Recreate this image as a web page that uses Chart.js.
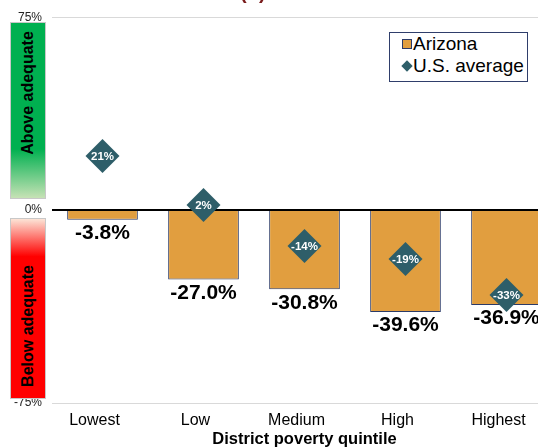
<!DOCTYPE html>
<html lang="en">
<head>
    <meta charset="UTF-8">
    <title>District poverty quintile</title>
    <script src="https://cdn.jsdelivr.net/npm/chart.js"></script>
    <style>
        body {
            margin: 0;
            font-family: "Liberation Sans", Arial, sans-serif;
            background: #fff;
        }
        .wrap {
            position: relative;
            width: 538px;
            height: 447px;
            overflow: hidden;
        }
        .chart-box {
            position: absolute;
            left: 0;
            top: 0;
            width: 557px;
            height: 460px;
        }
        .top-title {
            position: absolute;
            left: 240px;
            top: -19px;
            font-weight: bold;
            font-size: 20px;
            color: #7a1c1c;
        }
        .band {
            position: absolute;
            left: 10px;
            width: 34px;
            border: 1px solid #c8c8c8;
        }
        .band span {
            position: absolute;
            left: 50%;
            font-weight: bold;
            font-size: 16px;
            white-space: nowrap;
            transform: translate(-50%, -50%) rotate(-90deg);
            color: #000;
        }
        .above {
            top: 22px;
            height: 175px;
            background: linear-gradient(to bottom, #00b050 0%, #00b050 72%, #c6e2b5 100%);
        }
        .below {
            top: 218px;
            height: 179px;
            background: linear-gradient(to bottom, #fce4d6 0%, #ff0000 21%, #ff0000 100%);
        }
        .legend {
            position: absolute;
            left: 389px;
            top: 32px;
            width: 137px;
            height: 48px;
            border: 1px solid #2f3e6b;
            background: #fff;
            font-size: 19px;
            color: #000;
        }
        .legend div {
            position: relative;
            height: 22px;
            line-height: 22px;
            padding-left: 23px;
        }
        .legend i {
            position: absolute;
            display: block;
        }
    </style>
</head>
<body>
    <div class="wrap">
        <div class="chart-box">
            <canvas id="myChart" width="557" height="460"></canvas>
        </div>
        <div class="top-title">(b)</div>
        <div class="band above"><span style="top: 70px;">Above adequate</span></div>
        <div class="band below"><span style="top: 107px;">Below adequate</span></div>
        <div class="legend" id="legend"></div>
    </div>

    <script>
        const categories = ['Lowest', 'Low', 'Medium', 'High', 'Highest'];
        const arizona = [-3.8, -27.0, -30.8, -39.6, -36.9];
        const usAverage = [21, 2, -14, -19, -33];
        const yTickValues = [-75, 0, 75];

        const barColor = '#e19e3f';
        const barBorder = '#2b3a67';
        const diamondColor = '#2e5e69';

        // labels under the bars and inside the diamonds
        const valueLabels = {
            id: 'valueLabels',
            afterDatasetsDraw(chart) {
                const ctx = chart.ctx;
                ctx.save();
                ctx.textAlign = 'center';

                ctx.font = 'bold 21px "Liberation Sans", Arial';
                ctx.fillStyle = '#000';
                ctx.textBaseline = 'top';
                chart.getDatasetMeta(0).data.forEach((bar, i) => {
                    ctx.fillText(arizona[i].toFixed(1) + '%', bar.x, bar.y + 3);
                });

                ctx.font = 'bold 11.5px "Liberation Sans", Arial';
                ctx.fillStyle = '#fff';
                ctx.textBaseline = 'middle';
                chart.getDatasetMeta(1).data.forEach((pt, i) => {
                    ctx.fillText(usAverage[i] + '%', pt.x, pt.y + 1);
                });
                ctx.restore();
            }
        };

        const ctx = document.getElementById('myChart').getContext('2d');
        const chart = new Chart(ctx, {
            type: 'bar',
            data: {
                labels: categories,
                datasets: [{
                    label: 'Arizona',
                    data: arizona,
                    backgroundColor: barColor,
                    borderColor: barBorder,
                    borderWidth: 1,
                    borderSkipped: 'start',
                    categoryPercentage: 1,
                    barPercentage: 0.7,
                    order: 1
                }, {
                    type: 'line',
                    label: 'U.S. average',
                    data: usAverage,
                    showLine: false,
                    clip: false,
                    pointStyle: 'rectRot',
                    pointRadius: 17,
                    pointHoverRadius: 17,
                    pointBackgroundColor: diamondColor,
                    pointBorderColor: diamondColor,
                    pointBorderWidth: 0,
                    order: 0
                }]
            },
            options: {
                responsive: false,
                animation: false,
                events: [],
                layout: {
                    autoPadding: false,
                    padding: { top: 14, left: 0, right: 0, bottom: 0 }
                },
                plugins: {
                    legend: { display: false },
                    tooltip: { enabled: false }
                },
                scales: {
                    x: {
                        grid: { display: false },
                        border: { display: false },
                        ticks: {
                            color: '#000',
                            font: { size: 16, family: '"Liberation Sans", Arial' },
                            padding: 0,
                            labelOffset: -8,
                            maxRotation: 0
                        },
                        title: {
                            display: true,
                            text: 'District poverty quintile',
                            color: '#000',
                            font: { size: 16.5, weight: 'bold', family: '"Liberation Sans", Arial' },
                            padding: { top: 0, bottom: 11 }
                        },
                        afterFit: s => { s.height = 57; }
                    },
                    y: {
                        min: -75,
                        max: 75,
                        afterBuildTicks: s => { s.ticks = yTickValues.map(v => ({ value: v })); },
                        afterFit: s => { s.width = 52; },
                        border: { display: false },
                        grid: {
                            drawTicks: false,
                            color: c => c.tick && c.tick.value === 0 ? '#000' : '#d9d9d9',
                            lineWidth: c => c.tick && c.tick.value === 0 ? 2 : 1
                        },
                        ticks: {
                            color: '#222',
                            font: { size: 12, family: '"Liberation Sans", Arial' },
                            padding: 10,
                            callback: v => v + '%'
                        }
                    }
                }
            },
            plugins: [valueLabels]
        });

        // legend box built from the datasets
        const legend = document.getElementById('legend');
        chart.data.datasets.forEach(ds => {
            const row = document.createElement('div');
            const mark = document.createElement('i');
            if (ds.type === 'line') {
                mark.style.cssText = 'left:13px;top:7px;width:8px;height:8px;transform:rotate(45deg);background:' + diamondColor;
            } else {
                mark.style.cssText = 'left:12px;top:6px;width:8px;height:8px;border:1px solid ' + barBorder + ';background:' + barColor;
            }
            row.appendChild(mark);
            row.appendChild(document.createTextNode(ds.label));
            legend.appendChild(row);
        });
    </script>
</body>
</html>
